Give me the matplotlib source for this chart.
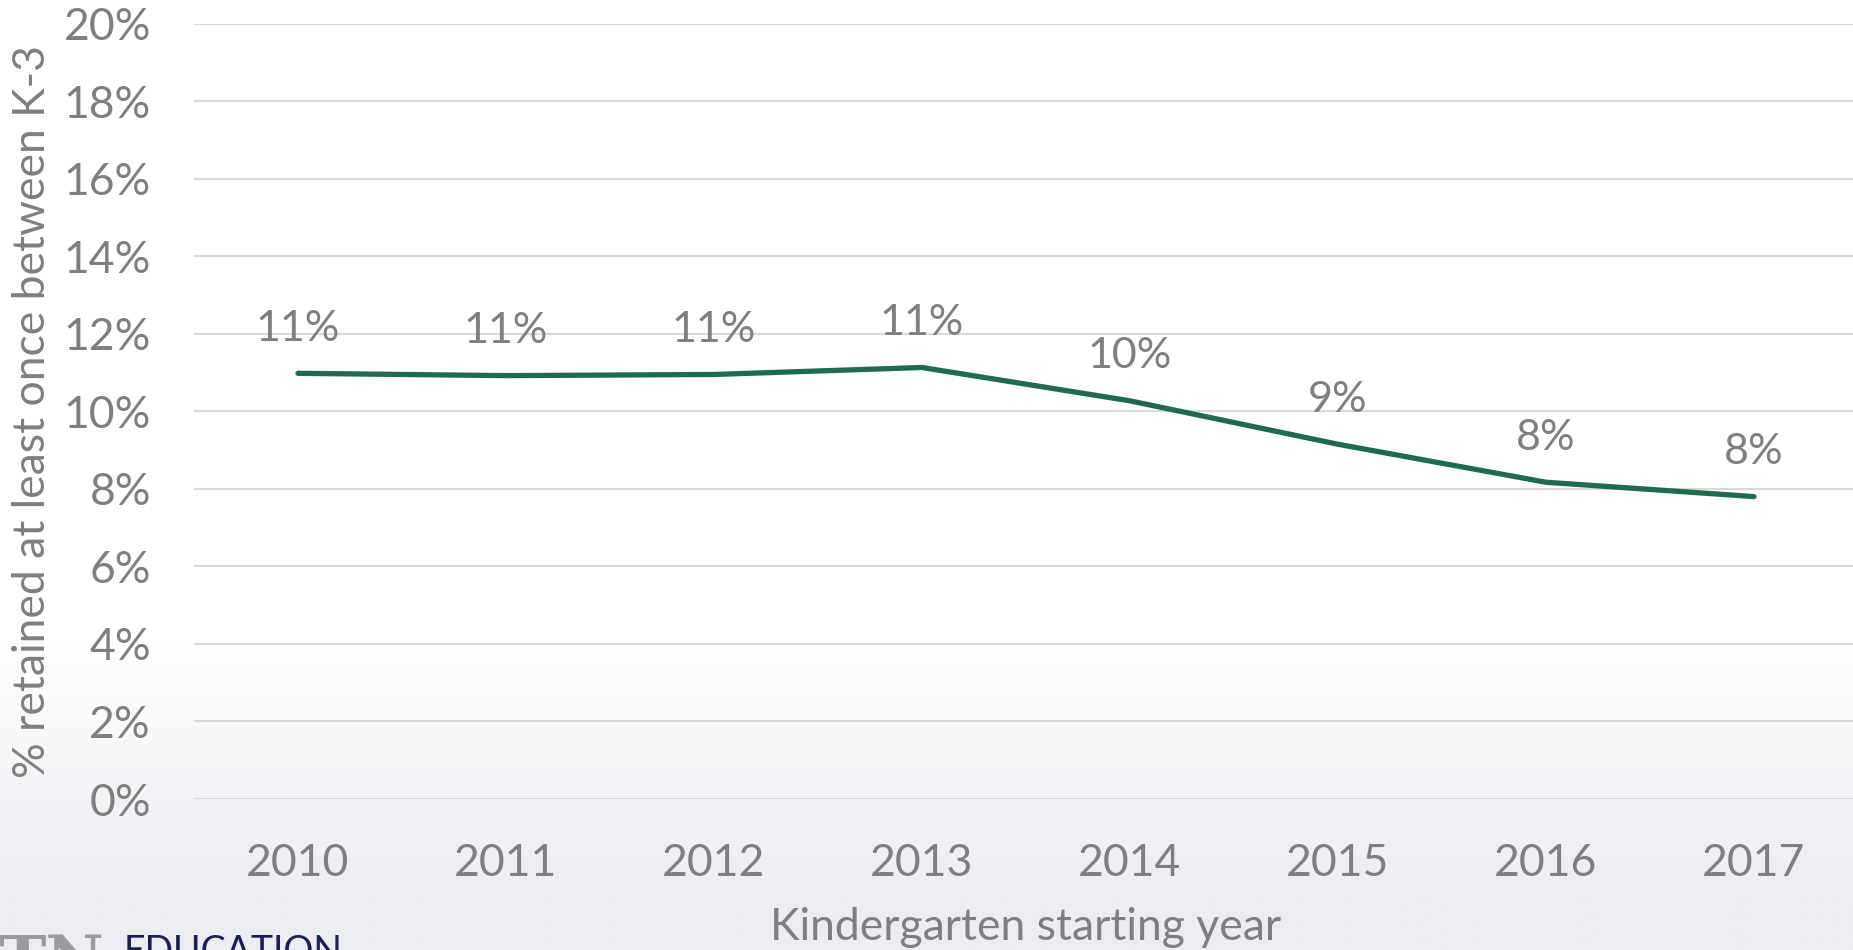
import numpy as np
import matplotlib.pyplot as plt
from matplotlib.colors import LinearSegmentedColormap

years = ['2010', '2011', '2012', '2013', '2014', '2015', '2016', '2017']
retained = [10.98, 10.92, 10.95, 11.13, 10.27, 9.15, 8.17, 7.80]
labels = ['11%', '11%', '11%', '11%', '10%', '9%', '8%', '8%']
yticks = [0, 2, 4, 6, 8, 10, 12, 14, 16, 18, 20]

gray = '#7F7F80'
green = '#1E6B4E'
plt.rcParams['font.family'] = ['Lato', 'DejaVu Sans']

W, H = 1853, 950
fig = plt.figure(figsize=(W / 100, H / 100), dpi=100)

# background: white on top, fading to a light blue-gray at the bottom
bg = fig.add_axes([0, 0, 1, 1], zorder=-10)
rows = np.linspace(0, 1, 400)
grad = np.clip((rows * H - 640) / 260, 0, 1)[:, None]
cmap = LinearSegmentedColormap.from_list('bg', ['#FFFFFF', '#ECEDF2'])
bg.imshow(grad, aspect='auto', cmap=cmap, extent=[0, 1, 1, 0], vmin=0, vmax=1)
bg.set_xlim(0, 1)
bg.set_ylim(1, 0)
bg.axis('off')

ax = fig.add_axes([194 / W, 1 - 799 / H, 1 - 194 / W, (799 - 23.6) / H])
ax.patch.set_alpha(0)
x = np.arange(len(years))
ax.plot(x, retained, color=green, lw=3.8, solid_capstyle='round', solid_joinstyle='round', zorder=3)
for xi, v, lab in zip(x, retained, labels):
    ax.annotate(lab, (xi, v), xytext=(0, 32), textcoords='offset points',
                ha='center', va='center', fontsize=31, color=gray)

ax.set_xlim(-0.5, 7.5 - 5 / 208)
ax.set_ylim(0, 20)
ax.set_xticks(x)
ax.set_xticklabels(years)
ax.set_yticks(yticks)
ax.set_yticklabels([f'{t}%' for t in yticks])
ax.tick_params(axis='both', length=0, labelsize=32, labelcolor=gray)
ax.tick_params(axis='y', pad=31)
ax.tick_params(axis='x', pad=32)
ax.grid(axis='y', color='#D9D9D9', lw=1.5)
ax.set_axisbelow(True)
for s in ax.spines.values():
    s.set_visible(False)

fig.text(33 / W, 1 - 412 / H, '% retained at least once between K-3', rotation=90,
         ha='center', va='center', fontsize=32, color=gray)
fig.text(1026 / W, 1 - 928 / H, 'Kindergarten starting year',
         ha='center', va='center', fontsize=32, color=gray)

# partial logo at bottom-left
fig.text(-2 / W, 1 - 933 / H, 'TN', ha='left', va='top', fontsize=46,
         family=['DejaVu Serif'], color='#9A9BA0', fontweight='bold')
fig.text(124 / W, 1 - 934 / H, 'EDUCATION', ha='left', va='top', fontsize=27,
         color='#1B2150')

fig.savefig('out.png', dpi=100)
